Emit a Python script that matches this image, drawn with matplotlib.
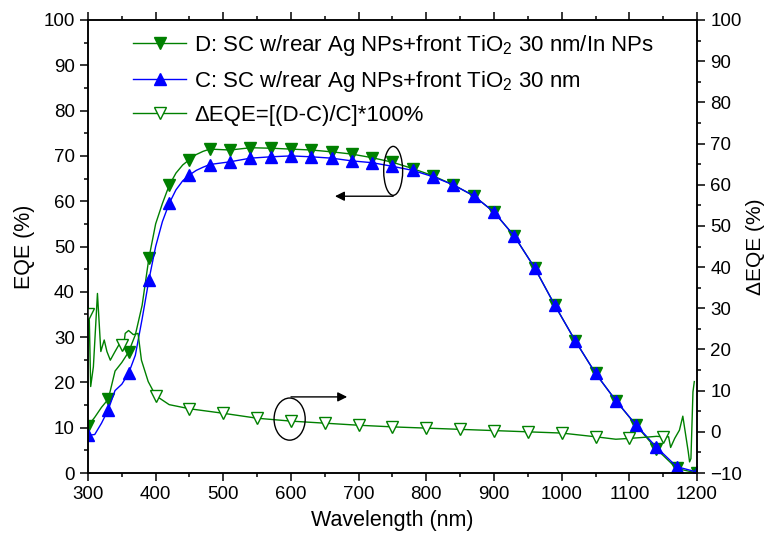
import matplotlib.pyplot as plt
from matplotlib.patches import Ellipse
from matplotlib.ticker import MultipleLocator

plt.rcParams['font.family'] = ['Liberation Sans', 'DejaVu Sans']
plt.rcParams['mathtext.default'] = 'regular'
plt.rcParams['font.size'] = 13.5

# EQE curves (left axis)
wavelength = [300, 310, 320, 330, 340, 350, 360, 370, 380, 390, 400, 410, 420, 430, 440, 450, 460, 470, 480,
              510, 540, 570, 600, 630, 660, 690, 720, 750, 780, 810, 840, 870, 900, 930, 960, 990,
              1020, 1050, 1080, 1110, 1140, 1170, 1200]
eqe_d = [10.4, 12.3, 14.5, 16.3, 22.5, 24.4, 26.7, 30.5, 37.0, 47.4, 55.0, 59.5, 63.5, 66.2, 68.0, 69.2, 70.3, 71.0, 71.5,
         71.3, 71.8, 71.7, 71.5, 71.3, 70.9, 70.4, 69.6, 68.6, 67.2, 65.6, 63.6, 61.2, 57.6, 52.3, 45.3, 37.0,
         29.2, 22.0, 16.0, 10.5, 5.3, 1.0, 0.0]
eqe_c = [8.3, 8.5, 11.0, 14.0, 18.2, 19.6, 22.0, 26.0, 34.0, 42.6, 50.0, 55.5, 59.5, 62.5, 64.5, 65.8, 66.8, 67.5, 68.1,
         68.7, 69.5, 69.8, 70.0, 69.8, 69.5, 68.9, 68.5, 67.7, 66.8, 65.4, 63.6, 61.2, 57.6, 52.3, 45.3, 37.0,
         29.2, 22.0, 16.0, 10.6, 5.7, 1.4, 0.2]

# relative enhancement (right axis)
dqe_wavelength = [300, 302, 304, 308, 314, 319, 324, 328, 333, 340, 347, 350, 352, 355, 360, 367, 374, 379, 389,
                  400, 420, 450, 500, 550, 600, 650, 700, 750, 800, 850, 900, 950, 1000, 1050, 1080, 1100,
                  1125, 1140, 1150, 1158, 1161, 1167, 1174, 1179, 1187, 1189, 1191, 1194, 1196]
dqe = [28.5, 27.0, 11.0, 15.8, 33.6, 19.5, 22.3, 19.5, 17.4, 19.5, 21.5, 21.2, 19.9, 23.9, 24.6, 23.6, 23.9, 17.4, 12.2,
       8.8, 6.6, 5.6, 4.5, 3.3, 2.6, 2.1, 1.6, 1.2, 0.9, 0.6, 0.3, 0.0, -0.3, -1.2, -1.8, -1.6,
       -1.3, -1.1, -1.2, -1.2, -3.8, -1.6, 0.4, 3.8, -4.8, -7.3, -6.5, 9.7, 12.2]

fig, ax = plt.subplots(figsize=(7.69, 5.42), dpi=100)
fig.subplots_adjust(left=0.1144, right=0.9064, bottom=0.1273, top=0.9631)
ax2 = ax.twinx()

marks = [i for i, w in enumerate(wavelength) if (w - 300) % 30 == 0]
dmarks = [i for i, w in enumerate(dqe_wavelength) if w % 50 == 0]

l_d, = ax.plot(wavelength, eqe_d, color='green', lw=1, marker='v', ms=9, markevery=marks,
               label='D: SC w/rear Ag NPs+front TiO$_2$ 30 nm/In NPs')
l_c, = ax.plot(wavelength, eqe_c, color='blue', lw=1, marker='^', ms=9, markevery=marks,
               label='C: SC w/rear Ag NPs+front TiO$_2$ 30 nm')
l_e, = ax2.plot(dqe_wavelength, dqe, color='green', lw=1, marker='v', ms=9, mfc='white', mew=1,
                markevery=dmarks, label='ΔEQE=[(D-C)/C]*100%')

ax.set_xlim(300, 1200)
ax.set_ylim(0, 100)
ax2.set_ylim(-10, 100)
ax.xaxis.set_major_locator(MultipleLocator(100))
ax.xaxis.set_minor_locator(MultipleLocator(50))
ax.yaxis.set_major_locator(MultipleLocator(10))
ax.yaxis.set_minor_locator(MultipleLocator(5))
ax2.yaxis.set_major_locator(MultipleLocator(10))
ax2.yaxis.set_minor_locator(MultipleLocator(5))

for a in (ax, ax2):
    for s in a.spines.values():
        s.set_linewidth(1.1)
    a.tick_params(which='major', direction='out', length=6, width=1.1, labelsize=13.5)
    a.tick_params(which='minor', direction='out', length=3, width=1.1)
ax.tick_params(axis='x', which='both', top=True, labeltop=False)

ax.set_xlabel('Wavelength (nm)', fontsize=15.5, labelpad=5)
ax.set_ylabel('EQE (%)', fontsize=15.5, labelpad=6)
ax2.set_ylabel('ΔEQE (%)', fontsize=15, labelpad=3)

# circle + arrow annotations (positions in left-axis EQE units, mapped to right axis)
def r(v):
    return v * 1.1 - 10

ax2.add_patch(Ellipse((751, r(66.7)), 28, 10.8 * 1.1, fill=False, lw=1, ec='black', zorder=5))
ax2.annotate('', xy=(665, r(61.1)), xytext=(751, r(61.1)),
             arrowprops=dict(arrowstyle='-|>', color='black', lw=1, mutation_scale=14, shrinkA=0, shrinkB=0))
ax2.add_patch(Ellipse((598, r(11.9)), 46, 9.3 * 1.1, fill=False, lw=1, ec='black', zorder=5))
ax2.annotate('', xy=(683, r(16.8)), xytext=(600, r(16.8)),
             arrowprops=dict(arrowstyle='-|>', color='black', lw=1, mutation_scale=14, shrinkA=0, shrinkB=0))

ax2.legend(handles=[l_d, l_c, l_e], loc='upper left', bbox_to_anchor=(0.074, 0.972), frameon=False,
           borderpad=0, borderaxespad=0, handlelength=2.4, handletextpad=0.35, labelspacing=0.5, fontsize=16)

fig.savefig('out.png', dpi=100)
